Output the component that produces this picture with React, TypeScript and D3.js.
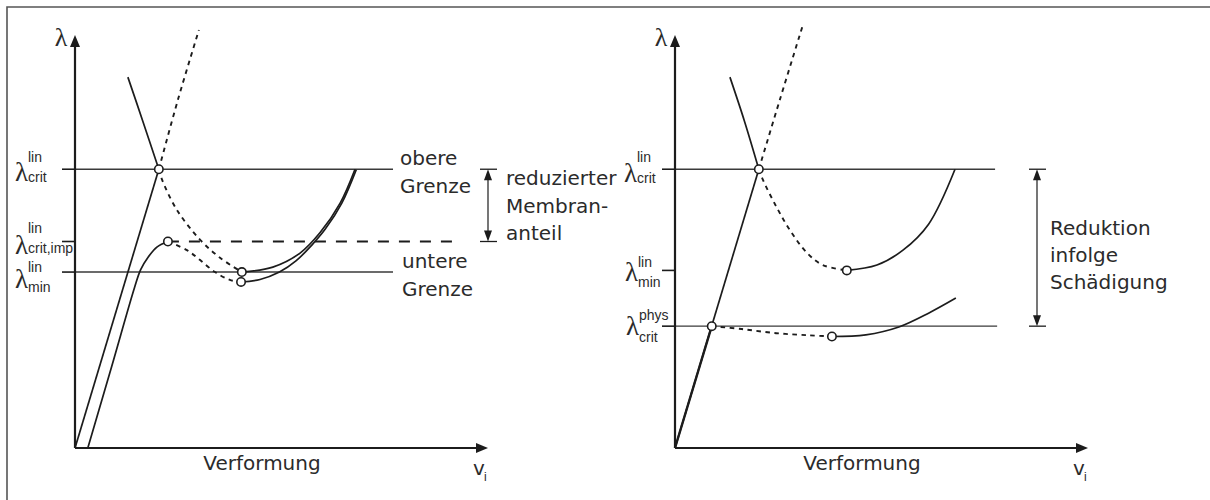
import React from "react";
import * as d3 from "d3";

// Load-deflection diagrams for shell buckling: linear vs. physical critical load levels
type Pt = [number, number];

// Shared load levels (λ) in diagram units (0..100 along each axis)
const LAMBDA_CRIT = 67.5;
const LAMBDA_CRIT_IMP = 50;
const LAMBDA_MIN_LEFT = 42.6;
const LAMBDA_MIN_RIGHT = 43;
const LAMBDA_PHYS = 29.5;

// Left diagram: perfect and imperfect shell
const leftPrebuckling: Pt[] = [[0, 0], [20.3, 67.5]];
const leftUpperBranch: Pt[] = [[12.8, 89.8], [16.4, 79.2], [20.3, 67.5]];
const leftRisingDotted: Pt[] = [[20.3, 67.5], [25, 84.6], [30, 101.2]];
const leftFallingDotted: Pt[] = [[20.3, 67.5], [21.1, 64.9], [24.7, 57.6], [30.3, 50.4], [35.2, 46.0], [40.4, 42.6]];
const leftPostBuckling: Pt[] = [[40.4, 42.6], [47.9, 43.8], [54.5, 47.2], [59.3, 52.1], [64.2, 59.3], [67.8, 67.5]];
const imperfectPrebuckling: Pt[] = [[3.1, 0], [8.9, 19.8], [14.4, 38.8], [15.9, 43.2], [17.7, 46.2], [19.9, 48.7], [22.5, 50]];
const imperfectFallingDotted: Pt[] = [[22.5, 50], [27.1, 47.9], [30.3, 45.5], [33.9, 42.6], [37.5, 40.7], [40.2, 40.2]];
const imperfectPostBuckling: Pt[] = [[40.2, 40.2], [44.8, 40.8], [49.5, 42.6], [53.5, 45.3], [57.4, 49.2], [60.6, 53.0], [64.6, 59.3], [68.1, 67.4]];
const leftCircles: Pt[] = [[20.3, LAMBDA_CRIT], [22.5, LAMBDA_CRIT_IMP], [40.4, LAMBDA_MIN_LEFT], [40.2, 40.2]];

// Right diagram: reduction caused by damage
const rightPrebuckling: Pt[] = [[0, 0], [20.3, 67.5]];
const rightUpperBranch: Pt[] = [[13.3, 89.8], [16.8, 79.2], [20.3, 67.5]];
const rightRisingDotted: Pt[] = [[20.3, 67.5], [25.5, 84.7], [30.8, 101.9]];
const rightFallingDotted: Pt[] = [[20.3, 67.5], [21.3, 64.9], [24.5, 58.5], [27.8, 52.8], [32, 47.2], [35.8, 44.3], [41.6, 43]];
const rightPostBuckling: Pt[] = [[41.6, 43], [48.9, 44.3], [55.2, 47.9], [61.4, 54.2], [67.8, 67.5]];
const physDotted: Pt[] = [[8.9, LAMBDA_PHYS], [16.2, 28.8], [24.5, 27.8], [32.4, 27.3], [38, 27]];
const physPostBuckling: Pt[] = [[38, 27], [46.2, 27.4], [54.2, 29.3], [61.5, 32.7], [68, 36.3]];
const rightCircles: Pt[] = [[20.3, LAMBDA_CRIT], [41.6, LAMBDA_MIN_RIGHT], [8.9, LAMBDA_PHYS], [38, 27]];

const leftNotes = ["obere", "Grenze", "untere", "Grenze"];
const leftBracketText = ["reduzierter", "Membran-", "anteil"];
const rightBracketText = ["Reduktion", "infolge", "Schädigung"];
const axisTitle = "Verformung";

const INK = "#1c1c1c";
const TEXT = "#2b2b2b";
const SANS = "'DejaVu Sans', sans-serif";
const ARIAL = "'Liberation Sans', Arial, sans-serif";
const SERIF = "'Liberation Serif', 'Times New Roman', serif";

const y = d3.scaleLinear().domain([0, 100]).range([448, 35]);
const xLeft = d3.scaleLinear().domain([0, 100]).range([75, 488]);
const xRight = d3.scaleLinear().domain([0, 100]).range([675, 1088]);

function makeLine(x: d3.ScaleLinear<number, number>) {
  return d3
    .line<Pt>()
    .x((d) => x(d[0]))
    .y((d) => y(d[1]))
    .curve(d3.curveCatmullRom.alpha(0.5));
}

const SOLID = { fill: "none", stroke: INK, strokeWidth: 1.7 };
const DOTTED = { fill: "none", stroke: INK, strokeWidth: 1.9, strokeDasharray: "4.5 4.5" };

function Axes({ x }: { x: d3.ScaleLinear<number, number> }) {
  const x0 = x(0);
  const y0 = y(0);
  const top = y(100);
  const right = x(100);
  return (
    <g>
      <line x1={x0} y1={y0} x2={x0} y2={top + 10} stroke={INK} strokeWidth={2.2} />
      <path d={`M${x0},${top} L${x0 - 5},${top + 12} L${x0 + 5},${top + 12} Z`} fill={INK} />
      <line x1={x0} y1={y0} x2={right - 10} y2={y0} stroke={INK} strokeWidth={2.2} />
      <path d={`M${right},${y0} L${right - 12},${y0 - 5} L${right - 12},${y0 + 5} Z`} fill={INK} />
      <text x={x0 - 14} y={top + 11} fontFamily={SERIF} fontSize={26} fill={TEXT} textAnchor="middle">λ</text>
      <text x={x0 + 187} y={y0 + 22} fontFamily={SANS} fontSize={20} fill={TEXT} textAnchor="middle">{axisTitle}</text>
      <text x={right - 15} y={y0 + 27} fontFamily={SANS} fontSize={20} fill={TEXT}>v</text>
      <text x={right - 4} y={y0 + 33} fontFamily={ARIAL} fontSize={12} fill={TEXT}>i</text>
    </g>
  );
}

function LevelLabel({
  x,
  level,
  sup,
  sub,
  dy,
  supDy,
  subDy,
}: {
  x: number;
  level: number;
  sup: string;
  sub: string;
  dy: number;
  supDy: number;
  subDy: number;
}) {
  const py = y(level);
  return (
    <g>
      <text x={x} y={py + dy} fontFamily={SERIF} fontSize={27} fill={TEXT}>λ</text>
      <text x={x + 13} y={py + supDy} fontFamily={ARIAL} fontSize={14} fill={TEXT}>{sup}</text>
      <text x={x + 13} y={py + subDy} fontFamily={ARIAL} fontSize={14} fill={TEXT}>{sub}</text>
    </g>
  );
}

function Tick({ x, level }: { x: d3.ScaleLinear<number, number>; level: number }) {
  return <line x1={x(0) - 13} x2={x(0)} y1={y(level)} y2={y(level)} stroke={INK} strokeWidth={1.6} />;
}

function Level({ x, level, end }: { x: d3.ScaleLinear<number, number>; level: number; end: number }) {
  return <line x1={x(0)} x2={x(end)} y1={y(level)} y2={y(level)} stroke="#3a3a3a" strokeWidth={1.4} />;
}

function Bracket({ px, from, to }: { px: number; from: number; to: number }) {
  const a = y(from);
  const b = y(to);
  return (
    <g>
      <line x1={px - 8} x2={px + 9} y1={a} y2={a} stroke={INK} strokeWidth={1.3} />
      <line x1={px - 8} x2={px + 9} y1={b} y2={b} stroke={INK} strokeWidth={1.3} />
      <line x1={px} x2={px} y1={a + 6} y2={b - 6} stroke={INK} strokeWidth={1.2} />
      <path d={`M${px},${a} L${px - 4},${a + 11} L${px + 4},${a + 11} Z`} fill={INK} />
      <path d={`M${px},${b} L${px - 4},${b - 11} L${px + 4},${b - 11} Z`} fill={INK} />
    </g>
  );
}

function Circles({ x, pts }: { x: d3.ScaleLinear<number, number>; pts: Pt[] }) {
  return (
    <g>
      {pts.map((p, i) => (
        <circle key={i} cx={x(p[0])} cy={y(p[1])} r={4.2} fill="#fff" stroke={INK} strokeWidth={1.6} />
      ))}
    </g>
  );
}

export default function App() {
  const lineL = makeLine(xLeft);
  const lineR = makeLine(xRight);
  const straightL = d3.line<Pt>().x((d) => xLeft(d[0])).y((d) => y(d[1]));
  const straightR = d3.line<Pt>().x((d) => xRight(d[0])).y((d) => y(d[1]));

  return (
    <svg
      width={1210}
      height={500}
      style={{ position: "absolute", left: 0, top: 0, background: "#fff", display: "block" }}
    >
      <rect width={1210} height={500} fill="#fff" />
      {/* frame */}
      <path d="M7,500 V7 H1210" fill="none" stroke="#555" strokeWidth={1.6} />

      {/* ---------- left diagram ---------- */}
      <Level x={xLeft} level={LAMBDA_CRIT} end={77} />
      <Level x={xLeft} level={LAMBDA_MIN_LEFT} end={77} />
      <line
        x1={xLeft(22.5)}
        x2={xLeft(93.6)}
        y1={y(LAMBDA_CRIT_IMP)}
        y2={y(LAMBDA_CRIT_IMP)}
        stroke={INK}
        strokeWidth={2.1}
        strokeDasharray="11 10"
      />
      <Tick x={xLeft} level={LAMBDA_CRIT} />
      <Tick x={xLeft} level={LAMBDA_CRIT_IMP} />
      <Tick x={xLeft} level={LAMBDA_MIN_LEFT} />

      <path d={straightL(leftPrebuckling) ?? ""} {...SOLID} />
      <path d={lineL(leftUpperBranch) ?? ""} {...SOLID} />
      <path d={lineL(leftRisingDotted) ?? ""} {...DOTTED} />
      <path d={lineL(leftFallingDotted) ?? ""} {...DOTTED} />
      <path d={lineL(leftPostBuckling) ?? ""} {...SOLID} />
      <path d={lineL(imperfectPrebuckling) ?? ""} {...SOLID} />
      <path d={lineL(imperfectFallingDotted) ?? ""} {...DOTTED} />
      <path d={lineL(imperfectPostBuckling) ?? ""} {...SOLID} />
      <Circles x={xLeft} pts={leftCircles} />
      <Axes x={xLeft} />

      <LevelLabel x={15} level={LAMBDA_CRIT} sup="lin" sub="crit" dy={12} supDy={-7} subDy={13} />
      <LevelLabel x={15} level={LAMBDA_CRIT_IMP} sup="lin" sub="crit,imp" dy={12} supDy={-9} subDy={11} />
      <LevelLabel x={15} level={LAMBDA_MIN_LEFT} sup="lin" sub="min" dy={16} supDy={0} subDy={20} />

      <g fontFamily={SANS} fontSize={20} fill={TEXT}>
        <text x={400} y={165}>{leftNotes[0]}</text>
        <text x={400} y={193}>{leftNotes[1]}</text>
        <text x={402} y={268}>{leftNotes[2]}</text>
        <text x={402} y={296}>{leftNotes[3]}</text>
        {leftBracketText.map((t, i) => (
          <text key={t} x={506} y={185 + i * 27.5}>{t}</text>
        ))}
      </g>
      <Bracket px={488} from={LAMBDA_CRIT} to={LAMBDA_CRIT_IMP} />

      {/* ---------- right diagram ---------- */}
      <Level x={xRight} level={LAMBDA_CRIT} end={77.5} />
      <Level x={xRight} level={LAMBDA_PHYS} end={78} />
      <Tick x={xRight} level={LAMBDA_CRIT} />
      <Tick x={xRight} level={LAMBDA_MIN_RIGHT} />
      <Tick x={xRight} level={LAMBDA_PHYS} />

      <path d={straightR(rightPrebuckling) ?? ""} {...SOLID} />
      <path d={straightR([[0, 0], [8.9, LAMBDA_PHYS]]) ?? ""} fill="none" stroke={INK} strokeWidth={2.4} />
      <path d={lineR(rightUpperBranch) ?? ""} {...SOLID} />
      <path d={lineR(rightRisingDotted) ?? ""} {...DOTTED} />
      <path d={lineR(rightFallingDotted) ?? ""} {...DOTTED} />
      <path d={lineR(rightPostBuckling) ?? ""} {...SOLID} />
      <path d={lineR(physDotted) ?? ""} {...DOTTED} />
      <path d={lineR(physPostBuckling) ?? ""} {...SOLID} />
      <Circles x={xRight} pts={rightCircles} />
      <Axes x={xRight} />

      <LevelLabel x={624} level={LAMBDA_CRIT} sup="lin" sub="crit" dy={13} supDy={-7} subDy={14} />
      <LevelLabel x={625} level={LAMBDA_MIN_RIGHT} sup="lin" sub="min" dy={11} supDy={-3} subDy={17} />
      <LevelLabel x={626} level={LAMBDA_PHYS} sup="phys" sub="crit" dy={9} supDy={-6} subDy={16} />

      <g fontFamily={SANS} fontSize={20} fill={TEXT}>
        {rightBracketText.map((t, i) => (
          <text key={t} x={1050} y={235 + i * 27}>{t}</text>
        ))}
      </g>
      <Bracket px={1037} from={LAMBDA_CRIT} to={LAMBDA_PHYS} />
    </svg>
  );
}
